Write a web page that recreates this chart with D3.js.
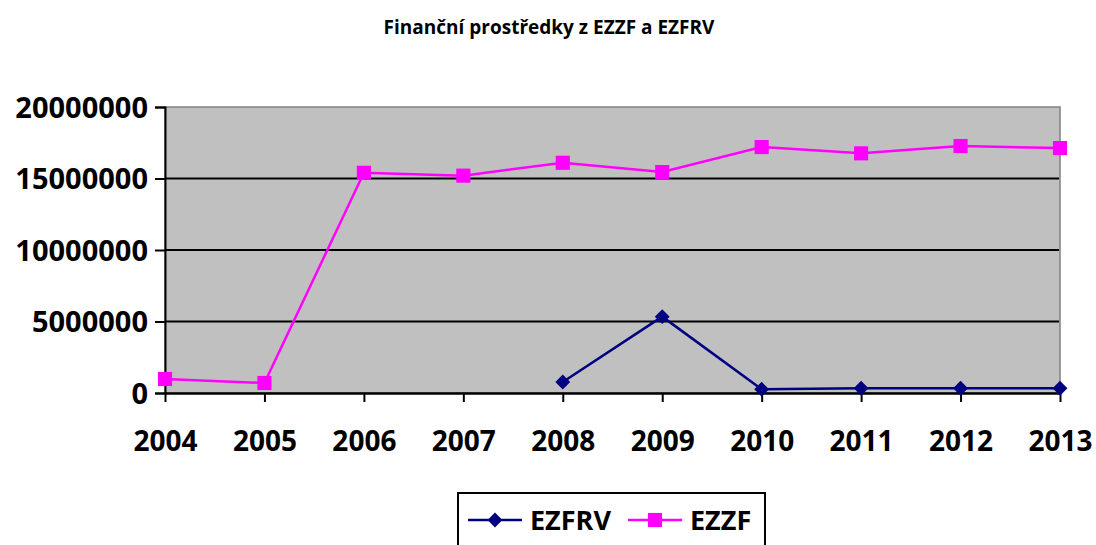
<!DOCTYPE html>
<html>
<head>
<meta charset="utf-8">
<script src="https://cdn.jsdelivr.net/npm/d3@7"></script>
<style>
  body { margin: 0; background: #fff; }
  svg text { font-family: "Open Sans", "Noto Sans", sans-serif; font-weight: bold; fill: #000; }
</style>
</head>
<body>
<svg id="chart" width="1096" height="545"></svg>
<script>
(function() {

  // ---------------------------data---------------------------//
  var years  = ["2004", "2005", "2006", "2007", "2008", "2009", "2010", "2011", "2012", "2013"];
  var ezfrv  = [null, null, null, null, 770000, 5340000, 260000, 330000, 330000, 330000];
  var ezzf   = [980000, 700000, 15400000, 15200000, 16100000, 15450000, 17200000, 16760000, 17270000, 17130000];
  var yTicks = [0, 5000000, 10000000, 15000000, 20000000];

  var svg = d3.select("#chart");
  var left = 165, right = 1060, top = 107, bottom = 393;

  var x = d3.scalePoint().domain(years).range([left, right]);
  var y = d3.scaleLinear().domain([0, 20000000]).range([bottom, top]);

  // title
  svg.append("text")
    .attr("x", 549).attr("y", 34)
    .attr("text-anchor", "middle")
    .style("font-size", "19px")
    .text("Finanční prostředky z EZZF a EZFRV");

  // plot background
  svg.append("rect")
    .attr("x", left).attr("y", top)
    .attr("width", right - left).attr("height", bottom - top)
    .attr("fill", "#c0c0c0")
    .attr("stroke", "#808080").attr("stroke-width", 1.5);

  // grid lines
  svg.append("g").selectAll("line")
    .data(yTicks.filter(function(d){ return d > 0 && d < 20000000; }))
    .enter().append("line")
    .attr("x1", left).attr("x2", right - 1)
    .attr("y1", function(d){ return y(d); }).attr("y2", function(d){ return y(d); })
    .attr("stroke", "#000").attr("stroke-width", 2);

  // y axis
  var yAxis = svg.append("g")
    .attr("transform", "translate(" + left + ",0)")
    .call(d3.axisLeft(y).tickValues(yTicks).tickSize(10).tickPadding(7).tickFormat(d3.format("d")));
  yAxis.select(".domain").attr("stroke", "#000").attr("stroke-width", 2);
  yAxis.selectAll(".tick line").attr("stroke", "#000").attr("stroke-width", 2);
  yAxis.selectAll(".tick text").style("font-size", "29px").attr("dy", "0.36em");

  // x axis
  var xAxis = svg.append("g")
    .attr("transform", "translate(0," + bottom + ")")
    .call(d3.axisBottom(x).tickSize(9).tickPadding(29).tickSizeOuter(0));
  xAxis.select(".domain").attr("stroke", "#000").attr("stroke-width", 2.5);
  xAxis.selectAll(".tick line").attr("stroke", "#000").attr("stroke-width", 2);
  xAxis.selectAll(".tick text").style("font-size", "28px");

  // lines
  var line = d3.line()
    .defined(function(d){ return d.v !== null; })
    .x(function(d){ return x(d.year); })
    .y(function(d){ return y(d.v); });

  function pts(arr) {
    return years.map(function(yr, i){ return { year: yr, v: arr[i] }; });
  }

  // diamond = square turned 45 degrees
  var series = [
    { name: "EZFRV", values: pts(ezfrv), color: "#000080", size: 110, rot: 45 },
    { name: "EZZF",  values: pts(ezzf),  color: "#ff00ff", size: 200, rot: 0 }
  ];
  var sq = d3.symbol().type(d3.symbolSquare);

  series.forEach(function(s) {
    svg.append("path")
      .datum(s.values)
      .attr("fill", "none")
      .attr("stroke", s.color)
      .attr("stroke-width", 2.5)
      .attr("d", line);

    svg.append("g").selectAll("path")
      .data(s.values.filter(function(d){ return d.v !== null; }))
      .enter().append("path")
      .attr("transform", function(d){ return "translate(" + x(d.year) + "," + y(d.v) + ") rotate(" + s.rot + ")"; })
      .attr("d", sq.size(s.size)())
      .attr("fill", s.color);
  });

  // legend
  var legend = svg.append("g");
  legend.append("rect")
    .attr("x", 458).attr("y", 493)
    .attr("width", 307).attr("height", 70)
    .attr("fill", "#fff").attr("stroke", "#000").attr("stroke-width", 2);

  var lx = [468, 628];
  series.forEach(function(s, i) {
    var g = legend.append("g").attr("transform", "translate(" + lx[i] + ",520)");
    g.append("line").attr("x1", 0).attr("x2", 54)
      .attr("stroke", s.color).attr("stroke-width", 2.5);
    g.append("path").attr("transform", "translate(27,0) rotate(" + s.rot + ")")
      .attr("d", sq.size(s.size)())
      .attr("fill", s.color);
    g.append("text").attr("x", 62).attr("y", 0).attr("dy", "0.36em")
      .style("font-size", "27px")
      .text(s.name);
  });

}());
</script>
</body>
</html>
